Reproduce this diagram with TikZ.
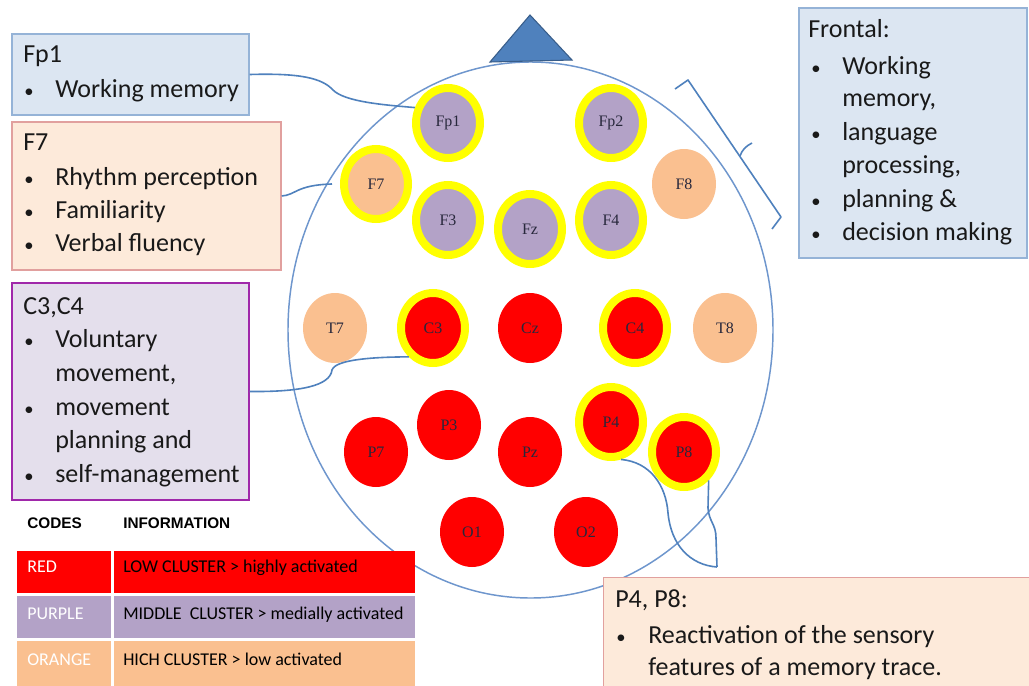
\documentclass[tikz,border=0pt]{standalone}
\usepackage{fontspec}
\setmainfont{Carlito}
\newfontfamily\eegfont{Liberation Serif}
\newfontfamily\hdrfont{Liberation Sans}
\usetikzlibrary{shapes.geometric,fit}
\definecolor{epurple}{RGB}{179,162,199}
\definecolor{eorange}{RGB}{250,192,144}
\definecolor{ered}{RGB}{255,0,0}
\definecolor{eyellow}{RGB}{255,255,0}
\definecolor{headblue}{RGB}{110,150,205}
\definecolor{conblue}{RGB}{79,129,189}
\definecolor{tridark}{RGB}{56,93,138}
\definecolor{boxblue}{RGB}{220,230,242}
\definecolor{boxblueline}{RGB}{149,179,215}
\definecolor{boxpeach}{RGB}{253,234,218}
\definecolor{boxpeachline}{RGB}{225,160,158}
\definecolor{boxlilac}{RGB}{228,223,236}
\definecolor{boxlilacline}{RGB}{160,40,170}
\definecolor{txt}{RGB}{25,25,25}
\definecolor{etxt}{RGB}{40,40,60}
\newcommand{\smallbul}{{\fontsize{14}{14}\selectfont\textbullet}}
\tikzset{
  electrode/.style={ellipse, minimum width=48pt, minimum height=52.5pt, inner sep=0pt,
    font=\eegfont\fontsize{12}{12}\selectfont, text=etxt},
  ringed/.style={draw=eyellow, line width=6pt},
  infobox/.style={rectangle, inner sep=0pt, line width=1.1pt},
  txtline/.style={anchor=base west, inner sep=0pt, font=\fontsize{19.5}{24}\selectfont, text=txt},
  legtxt/.style={anchor=base west, inner sep=0pt, font=\fontsize{13.5}{14}\selectfont},
  hdrtxt/.style={anchor=base west, inner sep=0pt, font=\hdrfont\bfseries\fontsize{11.5}{12}\selectfont, text=black},
  legcell/.style={rectangle, inner sep=0pt, draw=none},
  conn/.style={draw=conblue, line width=1.2pt},
}
\begin{document}
\begin{tikzpicture}[x=0.75pt,y=-0.75pt]
\useasboundingbox (0,0) rectangle (1029,686);
\fill[white] (0,0) rectangle (1029,686);

% head
\draw[headblue, line width=1.1pt] (530.5,330) ellipse [x radius=242.5, y radius=268];
\draw[fill=conblue, draw=tridark, line width=0.8pt] (490,62) -- (530,15) -- (572,60) -- cycle;

% electrodes
\node[electrode, fill=epurple, ringed] (Fp1) at (448,123) {Fp1};
\node[electrode, fill=epurple, ringed] (Fp2) at (611,123) {Fp2};
\node[electrode, fill=eorange, ringed] (F7) at (376,184) {F7};
\node[electrode, fill=eorange] (F8) at (684,184) {F8};
\node[electrode, fill=epurple, ringed] (F3) at (448,220) {F3};
\node[electrode, fill=epurple, ringed] (Fz) at (530,229) {Fz};
\node[electrode, fill=epurple, ringed] (F4) at (611,220) {F4};
\node[electrode, fill=eorange] (T7) at (335,328) {T7};
\node[electrode, fill=ered, ringed] (C3) at (433,328) {C3};
\node[electrode, fill=ered] (Cz) at (530,328) {Cz};
\node[electrode, fill=ered, ringed] (C4) at (635,328) {C4};
\node[electrode, fill=eorange] (T8) at (725,328) {T8};
\node[electrode, fill=ered] (P3) at (449,425) {P3};
\node[electrode, fill=ered] (P7) at (376,452) {P7};
\node[electrode, fill=ered] (Pz) at (530,452) {Pz};
\node[electrode, fill=ered, ringed] (P4) at (611,422) {P4};
\node[electrode, fill=ered, ringed] (P8) at (684,452) {P8};
\node[electrode, fill=ered] (O1) at (472,532) {O1};
\node[electrode, fill=ered] (O2) at (586,532) {O2};

% info boxes
\node[infobox, fill=boxblue, draw=boxblueline, fit={(12,34) (249,115)}] (fp1box) {};
\node[txtline] at (23,62) {Fp1};
\node[txtline] at (24,97) {\smallbul};
\node[txtline] at (55,97) {Working memory};

\node[infobox, fill=boxpeach, draw=boxpeachline, fit={(12,122) (281,270)}] (f7box) {};
\node[txtline] at (23,150) {F7};
\node[txtline] at (24,185) {\smallbul};
\node[txtline] at (55,185) {Rhythm perception};
\node[txtline] at (24,218) {\smallbul};
\node[txtline] at (55,218) {Familiarity};
\node[txtline] at (24,251) {\smallbul};
\node[txtline] at (55,251) {Verbal fluency};

\node[infobox, fill=boxlilac, draw=boxlilacline, fit={(12,283) (249,500)}] (c3box) {};
\node[txtline] at (23,314) {C3,C4};
\node[txtline] at (24,347) {\smallbul};
\node[txtline] at (55,347) {Voluntary};
\node[txtline] at (55,381) {movement,};
\node[txtline] at (24,415) {\smallbul};
\node[txtline] at (55,415) {movement};
\node[txtline] at (55,448) {planning and};
\node[txtline] at (24,482) {\smallbul};
\node[txtline] at (55,482) {self-management};

\node[infobox, fill=boxblue, draw=boxblueline, fit={(799,8) (1027,258)}] (frontbox) {};
\node[txtline] at (808,37) {Frontal:};
\node[txtline] at (811,74) {\smallbul};
\node[txtline] at (842,74) {Working};
\node[txtline] at (842,106) {memory,};
\node[txtline] at (811,140) {\smallbul};
\node[txtline] at (842,140) {language};
\node[txtline] at (842,173) {processing,};
\node[txtline] at (811,207) {\smallbul};
\node[txtline] at (842,207) {planning \&};
\node[txtline] at (811,240) {\smallbul};
\node[txtline] at (842,240) {decision making};

\node[infobox, fill=boxpeach, fit={(604,578) (1029,686)}] (p48box) {};
\draw[boxpeachline, line width=1.1pt] (p48box.south west) -- (p48box.north west) -- (p48box.north east);
\node[txtline] at (615,607) {P4, P8:};
\node[txtline] at (616,643) {\smallbul};
\node[txtline] at (648,643) {Reactivation of the sensory};
\node[txtline] at (648,675) {features of a memory trace.};

% brace toward frontal box
\draw[conn, line join=round] (675,89) -- (688,80) -- (781,217) -- (772,229);
\draw[conn] (740,156) .. controls (742,150) and (746,146) .. (752,143);

% connectors
\draw[conn] (fp1box.east) .. controls (300,73) and (322,78) .. (333,90)
  .. controls (345,102) and (385,105) .. (Fp1.155);
\draw[conn] (f7box.east) .. controls (296,195) and (296,185) .. ([xshift=-6pt]F7.west);
\draw[conn] (c3box.east) .. controls (300,392) and (330,386) .. (332,370)
  .. controls (335,360) and (370,357) .. (C3.230);
\coordinate (p48join) at (717,567);
\draw[conn] (P4.285) .. controls (650,462) and (666,485) .. (668,513)
  .. controls (671,545) and (690,565) .. (p48join);
\draw[conn] (P8.311) -- (708,508) .. controls (709,522) and (716,524) .. (716,538) -- (p48join);

% legend
\node[hdrtxt] at (27,528) {CODES};
\node[hdrtxt] at (123,528) {INFORMATION};
\node[legcell, fill=ered, fit={(17,551) (111,593)}] (redcode) {};
\node[legcell, fill=ered, fit={(114,551) (415,593)}] (redinfo) {};
\node[legcell, fill=epurple, fit={(17,596) (111,638)}] (purcode) {};
\node[legcell, fill=epurple, fit={(114,596) (415,638)}] (purinfo) {};
\node[legcell, fill=eorange, fit={(17,641) (111,686)}] (orcode) {};
\node[legcell, fill=eorange, fit={(114,641) (415,686)}] (orinfo) {};
\node[legtxt, text=white] at (27,572) {RED};
\node[legtxt, text=black] at (123,572) {LOW CLUSTER > highly activated};
\node[legtxt, text=white] at (27,619) {PURPLE};
\node[legtxt, text=black] at (123,619) {MIDDLE\ \ CLUSTER > medially activated};
\node[legtxt, text=white] at (27,665) {ORANGE};
\node[legtxt, text=black] at (123,665) {HICH CLUSTER > low activated};
\end{tikzpicture}
\end{document}
